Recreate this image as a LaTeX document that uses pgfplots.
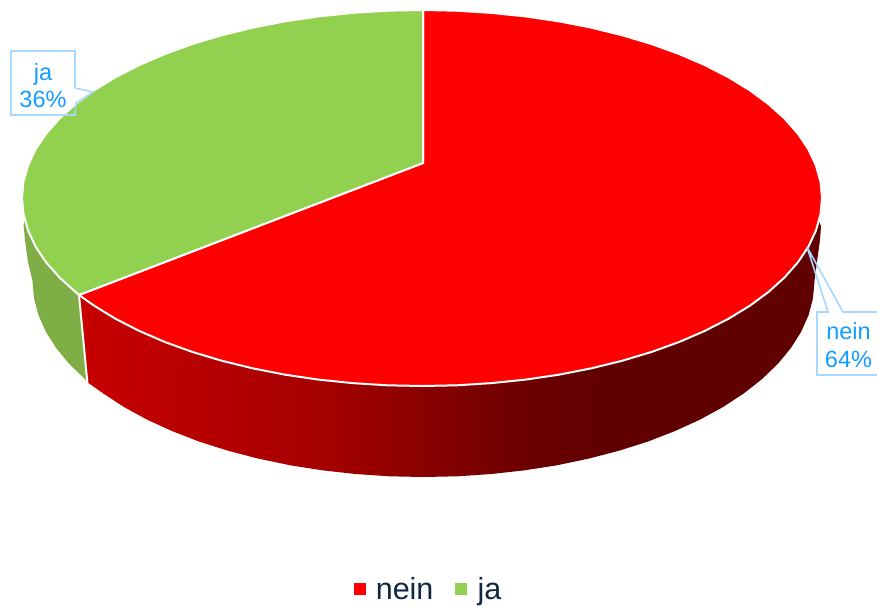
\documentclass[border=0pt]{standalone}
\usepackage{fontspec}
\setmainfont{Liberation Sans}
\usepackage{pgfplots}
\pgfplotsset{compat=1.18}
\definecolor{topred}{HTML}{FF0000}
\definecolor{topgreen}{HTML}{92D050}
\definecolor{sidegreen}{HTML}{7FAE46}
\definecolor{calloutline}{HTML}{A8D8FF}
\definecolor{callouttext}{HTML}{149CFF}
\definecolor{legendtext}{HTML}{0E2841}
\pgfdeclarehorizontalshading{redside}{100bp}{
  color(0bp)=(red!78!black); color(25.5bp)=(red!78!black);
  color(41.9bp)=(red!64!black); color(55.4bp)=(red!42!black);
  color(60.5bp)=(red!37.6!black); color(100bp)=(red!37.6!black)}
\begin{document}
\begin{tikzpicture}
\path[use as bounding box] (0,0) rectangle (877pt,606pt);
\begin{axis}[
  at={(0,0)}, anchor=south west,
  scale only axis, width=877pt, height=606pt,
  xmin=0, xmax=877, ymin=0, ymax=606, y dir=reverse,
  hide axis,
  legend columns=2,
  legend style={at={(axis cs:428.5,589)}, anchor=center, draw=none, fill=none,
    inner sep=0pt, font=\fontsize{30.5}{32}\selectfont, text=legendtext,
    /tikz/every even column/.append style={column sep=20pt}},
  legend image code/.code={\fill[#1] (0pt,-5.5pt) rectangle (11pt,5.5pt); \path[draw=none,fill=none] (0pt,0pt) -- (20pt,0pt);},
]
% side, green
\addplot[fill=sidegreen, draw=none, forget plot] coordinates {
 (79,295)(87,382)(84.9,379)(69.1,363.8)(56.1,348)(45.8,331.7)(38.4,315)(34,298.1)(32.5,281)(28,262)(25,240)(23.5,224)(28,215)(79,215)
} --cycle;
% side, red
\addplot[shade, shading=redside, draw=none, forget plot] coordinates {
 (822,198)(816,215)(821,226)(820,240)(817.5,258)(814.5,281)(813,298.1)(808.6,315)(801.2,331.7)(790.9,348)(777.9,363.8)(762.1,379)(743.8,393.4)(723,407)(700,419.6)(674.8,431.1)(647.8,441.6)(619,450.7)(588.7,458.6)(557.2,465.2)(524.7,470.3)(491.4,474)(457.6,476.3)(423.5,477)(389.4,476.3)(355.6,474)(322.3,470.3)(289.8,465.2)(258.3,458.6)(228,450.7)(199.2,441.6)(172.2,431.1)(147,419.6)(124,407)(103.2,393.4)(87,382)(79,295)(422,198)
} --cycle;
\addplot[draw=white, line width=2pt, forget plot] coordinates {(79,295)(87.5,384)};
% top, red (64 %)
\addplot[fill=topred, draw=white, line width=2pt, line join=round, forget plot] coordinates {
 (423,163)(423,10)(456.9,10.7)(491.5,12.9)(525.5,16.4)(558.8,21.3)(591,27.6)(622,35.2)(651.4,44)(679.1,54)(704.8,65.1)(728.4,77.2)(749.7,90.2)(768.4,104)(784.5,118.5)(797.9,133.7)(808.4,149.3)(815.9,165.4)(820.5,181.6)(822,198)
 (820.5,214.4)(815.9,230.6)(808.4,246.7)(797.9,262.3)(784.5,277.5)(768.4,292)(749.7,305.8)(728.4,318.8)(704.8,330.9)(679.1,342)(651.4,352)(622,360.8)(591,368.4)(558.8,374.7)(525.5,379.6)(491.5,383.1)(456.9,385.3)(422,386)
 (387.1,385.3)(352.5,383.1)(318.5,379.6)(285.2,374.7)(253,368.4)(222,360.8)(192.6,352)(164.9,342)(139.2,330.9)(115.6,318.8)(94.3,305.8)(79,295)
} --cycle;
% top, green (36 %)
\addplot[fill=topgreen, draw=white, line width=2pt, line join=round, forget plot] coordinates {
 (423,163)(79,295)(75.6,292)(59.5,277.5)(46.1,262.3)(35.6,246.7)(28.1,230.6)(23.5,214.4)(22,198)
 (23.5,181.6)(28.1,165.4)(35.6,149.3)(46.1,133.7)(59.5,118.5)(75.6,104)(94.3,90.2)(115.6,77.2)(139.2,65.1)(164.9,54)(192.6,44)(222,35.2)(253,27.6)(285.2,21.3)(318.5,16.4)(352.5,12.9)(387.1,10.7)(422,10)(423,10)
} --cycle;
% callouts
\addplot[draw=calloutline, line width=1.6pt, forget plot] coordinates {
 (11,51)(75,51)(75,88)(93,92)(76,103)(75,115)(11,115)
} --cycle;
\addplot[draw=calloutline, line width=1.6pt, forget plot] coordinates {
 (817,312)(828,312)(807,247)(843,312)(882,312)(882,375)(817,375)
} --cycle;
\node[anchor=base, text=callouttext, inner sep=0pt, font=\fontsize{23.5}{25}\selectfont] at (axis cs:43,80) {ja};
\node[anchor=base, text=callouttext, inner sep=0pt, font=\fontsize{23.5}{25}\selectfont] at (axis cs:43,107) {36\%};
\node[anchor=base, text=callouttext, inner sep=0pt, font=\fontsize{23.5}{25}\selectfont] at (axis cs:848.5,339) {nein};
\node[anchor=base, text=callouttext, inner sep=0pt, font=\fontsize{23.5}{25}\selectfont] at (axis cs:848.5,367) {64\%};
\addlegendimage{topred}
\addlegendentry{nein}
\addlegendimage{topgreen}
\addlegendentry{ja}
\end{axis}
\end{tikzpicture}
\end{document}
